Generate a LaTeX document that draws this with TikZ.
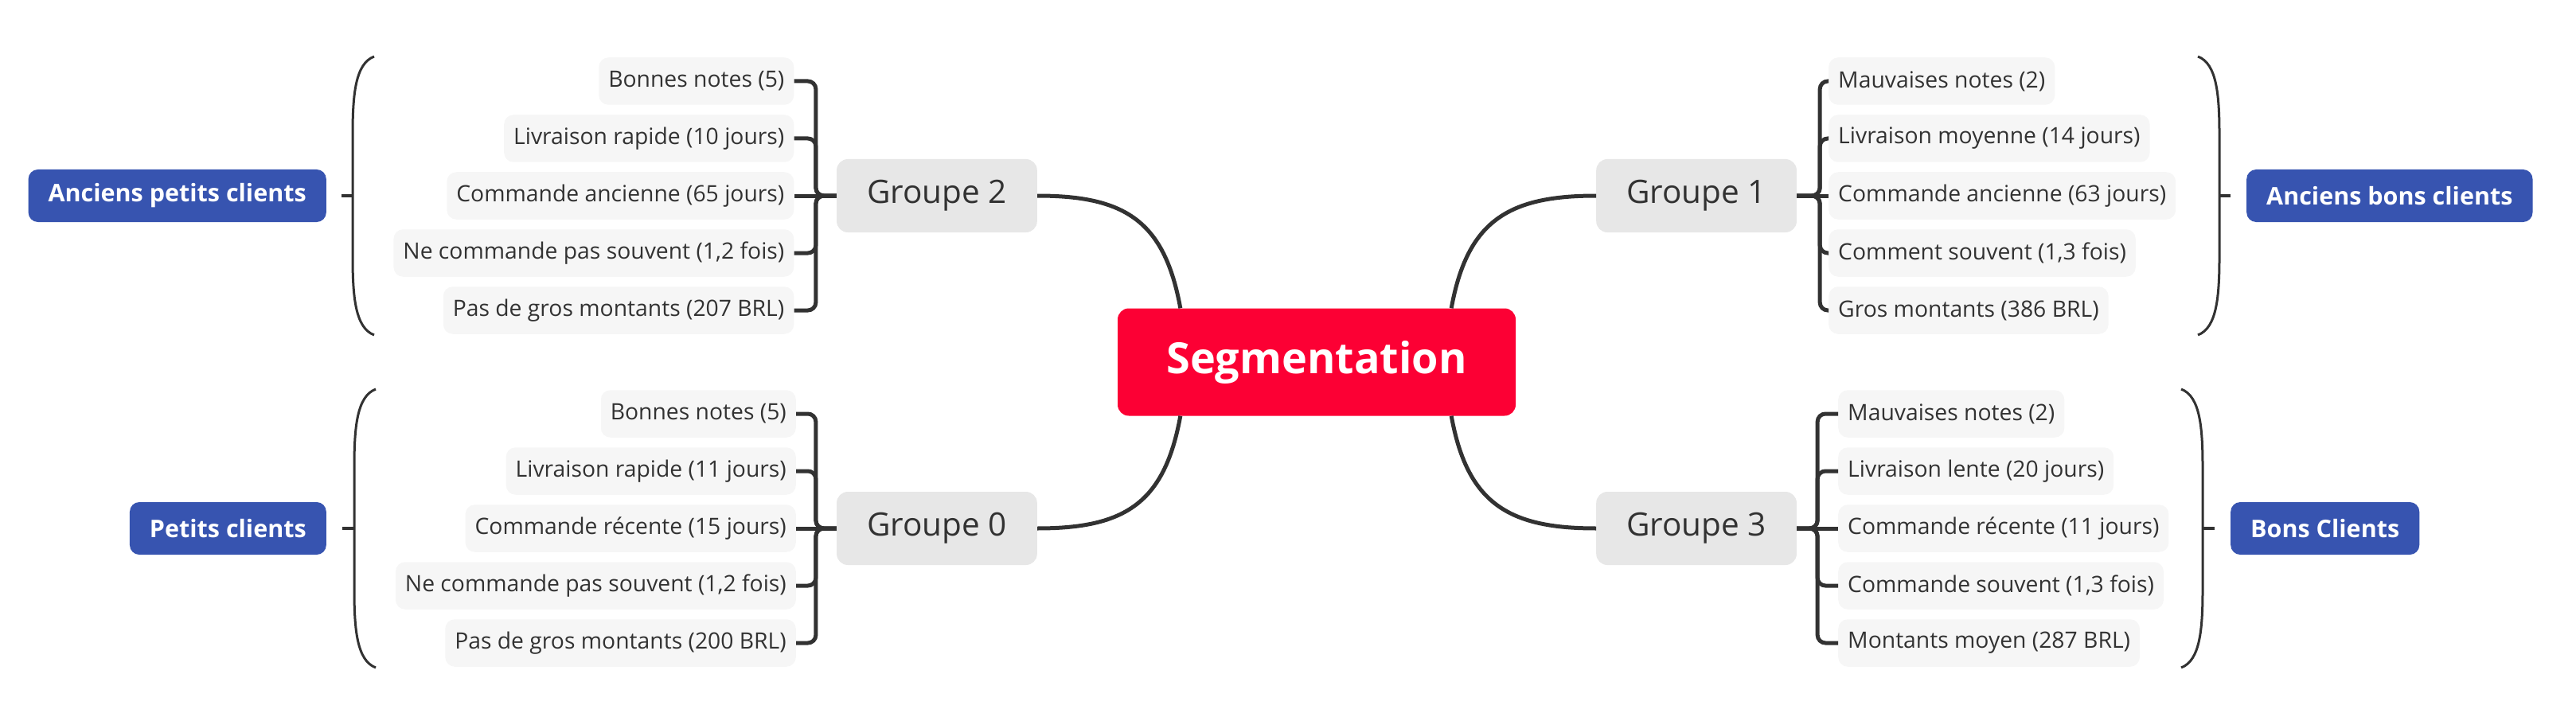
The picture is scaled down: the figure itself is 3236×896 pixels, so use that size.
\documentclass[tikz,border=0pt]{standalone}
\usepackage{fontspec}
\setmainfont{Open Sans}
\definecolor{segred}{HTML}{FC0034}
\definecolor{sumblue}{HTML}{3754B0}
\definecolor{grpgray}{HTML}{E7E7E7}
\definecolor{leafgray}{HTML}{F6F6F6}
\definecolor{ink}{HTML}{323232}
\tikzset{
  root/.style={fill=segred, text=white, rounded corners=14pt, minimum width=500pt, minimum height=135pt, font=\fontsize{54}{62}\selectfont\bfseries},
  groupe/.style={fill=grpgray, text=ink, rounded corners=14pt, minimum height=92pt, inner xsep=38pt, font=\fontsize{40.5}{46}\selectfont},
  crit/.style={fill=leafgray, text=ink, rounded corners=12pt, minimum height=59.5pt, inner xsep=12pt, font=\fontsize{28.3}{32}\selectfont},
  resume/.style={fill=sumblue, text=white, rounded corners=12pt, minimum height=66pt, inner xsep=25pt, font=\fontsize{30.5}{36}\selectfont\bfseries},
  branch/.style={draw=ink, line width=5pt, rounded corners=10pt},
  trunk/.style={draw=ink, line width=5pt},
  accolade/.style={draw=ink, line width=3pt},
}
\begin{document}
\begin{tikzpicture}[x=1pt,y=-1pt]
    \useasboundingbox (0,0) rectangle (3236,896);
    \node[root] (seg) at (1654,455) {Segmentation};

    \node[groupe, anchor=east] (g2) at (1303,246) {Groupe 2};
    \node[groupe, anchor=west] (g1) at (2005,246) {Groupe 1};
    \node[groupe, anchor=east] (g0) at (1303,664) {Groupe 0};
    \node[groupe, anchor=west] (g3) at (2005,664) {Groupe 3};

    \node[crit, anchor=east] (g2a) at (997.5,102) {Bonnes notes (5)};
    \node[crit, anchor=east] (g2b) at (997.5,174) {Livraison rapide (10 jours)};
    \node[crit, anchor=east] (g2c) at (997.5,246) {Commande ancienne (65 jours)};
    \node[crit, anchor=east] (g2d) at (997.5,318) {Ne commande pas souvent (1,2 fois)};
    \node[crit, anchor=east] (g2e) at (997.5,390) {Pas de gros montants (207 BRL)};

    \node[crit, anchor=east] (g0a) at (1000,520) {Bonnes notes (5)};
    \node[crit, anchor=east] (g0b) at (1000,592) {Livraison rapide (11 jours)};
    \node[crit, anchor=east] (g0c) at (1000,664) {Commande récente (15 jours)};
    \node[crit, anchor=east] (g0d) at (1000,736) {Ne commande pas souvent (1,2 fois)};
    \node[crit, anchor=east] (g0e) at (1000,808) {Pas de gros montants (200 BRL)};

    \node[crit, anchor=west] (g1a) at (2297,102) {Mauvaises notes (2)};
    \node[crit, anchor=west] (g1b) at (2297,174) {Livraison moyenne (14 jours)};
    \node[crit, anchor=west] (g1c) at (2297,246) {Commande ancienne (63 jours)};
    \node[crit, anchor=west] (g1d) at (2297,318) {Comment souvent (1,3 fois)};
    \node[crit, anchor=west] (g1e) at (2297,390) {Gros montants (386 BRL)};

    \node[crit, anchor=west] (g3a) at (2309,520) {Mauvaises notes (2)};
    \node[crit, anchor=west] (g3b) at (2309,592) {Livraison lente (20 jours)};
    \node[crit, anchor=west] (g3c) at (2309,664) {Commande récente (11 jours)};
    \node[crit, anchor=west] (g3d) at (2309,736) {Commande souvent (1,3 fois)};
    \node[crit, anchor=west] (g3e) at (2309,808) {Montants moyen (287 BRL)};

    \node[resume, anchor=east] (s2) at (410,246) {Anciens petits clients};
    \node[resume, anchor=east] (s0) at (410,664) {Petits clients};
    \node[resume, anchor=west] (s1) at (2822,246) {Anciens bons clients};
    \node[resume, anchor=west] (s3) at (2802,664) {Bons Clients};

    \draw[trunk] (g2.east) .. controls +(110,0) and +(-20,-110) .. ([xshift=79pt]seg.north west);
    \draw[trunk] (g1.west) .. controls +(-110,0) and +(20,-110) .. ([xshift=-81pt]seg.north east);
    \draw[trunk] (g0.east) .. controls +(110,0) and +(-20,110) .. ([xshift=79pt]seg.south west);
    \draw[trunk] (g3.west) .. controls +(-110,0) and +(20,110) .. ([xshift=-81pt]seg.south east);

    \draw[branch] (g2.west) -- ++(-26,0) |- (g2a.east);
    \draw[branch] (g2.west) -- ++(-26,0) |- (g2b.east);
    \draw[branch] (g2.west) -- (g2c.east);
    \draw[branch] (g2.west) -- ++(-26,0) |- (g2d.east);
    \draw[branch] (g2.west) -- ++(-26,0) |- (g2e.east);

    \draw[branch] (g0.west) -- ++(-26,0) |- (g0a.east);
    \draw[branch] (g0.west) -- ++(-26,0) |- (g0b.east);
    \draw[branch] (g0.west) -- (g0c.east);
    \draw[branch] (g0.west) -- ++(-26,0) |- (g0d.east);
    \draw[branch] (g0.west) -- ++(-26,0) |- (g0e.east);

    \draw[branch] (g1.east) -- ++(29,0) |- (g1a.west);
    \draw[branch] (g1.east) -- ++(29,0) |- (g1b.west);
    \draw[branch] (g1.east) -- (g1c.west);
    \draw[branch] (g1.east) -- ++(29,0) |- (g1d.west);
    \draw[branch] (g1.east) -- ++(29,0) |- (g1e.west);

    \draw[branch] (g3.east) -- ++(26,0) |- (g3a.west);
    \draw[branch] (g3.east) -- ++(26,0) |- (g3b.west);
    \draw[branch] (g3.east) -- (g3c.west);
    \draw[branch] (g3.east) -- ++(26,0) |- (g3d.west);
    \draw[branch] (g3.east) -- ++(26,0) |- (g3e.west);

    \draw[accolade] (470,71) .. controls (446,80) and (443,120) .. (443,170) -- (443,322) .. controls (443,372) and (446,412) .. (470,421);
    \draw[accolade, line width=4pt] (443,246) -- (429,246);
    \draw[accolade] (472,489) .. controls (448,498) and (445,538) .. (445,588) -- (445,740) .. controls (445,790) and (448,830) .. (472,839);
    \draw[accolade, line width=4pt] (445,664) -- (430,664);
    \draw[accolade] (2761,71) .. controls (2785,80) and (2788,120) .. (2788,170) -- (2788,322) .. controls (2788,372) and (2785,412) .. (2761,421);
    \draw[accolade, line width=4pt] (2788,246) -- (2802,246);
    \draw[accolade] (2740,489) .. controls (2764,498) and (2767,538) .. (2767,588) -- (2767,740) .. controls (2767,790) and (2764,830) .. (2740,839);
    \draw[accolade, line width=4pt] (2767,664) -- (2782,664);
\end{tikzpicture}
\end{document}
